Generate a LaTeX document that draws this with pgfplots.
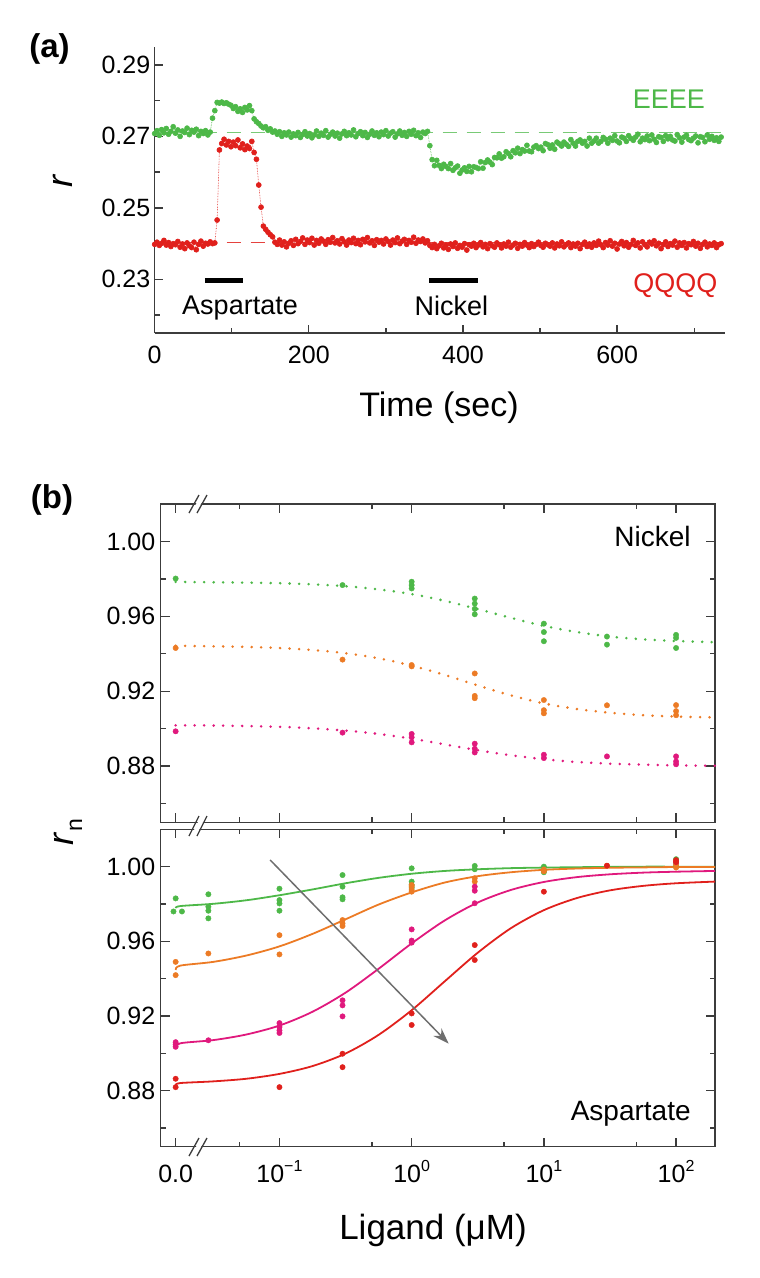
\documentclass[border=0pt]{standalone}
\usepackage{fontspec}
\setmainfont{Liberation Sans}
\usepackage{pgfplots}
\usepackage{pgfplotstable}
\pgfplotsset{compat=1.18}
\usetikzlibrary{arrows.meta}

\definecolor{cg}{HTML}{4DB848}
\definecolor{cr}{HTML}{E0201C}
\definecolor{co}{HTML}{EC7B25}
\definecolor{cp}{HTML}{E0197D}
\definecolor{axc}{HTML}{3C3C3C}
\definecolor{arr}{HTML}{6E6E6E}

\pgfplotstableread{
t g r
0 0.2708 0.2398
3 0.2716 0.2404
6 0.2703 0.2395
9 0.2719 0.2401
12 0.2710 0.2409
15 0.2722 0.2396
18 0.2706 0.2403
21 0.2714 0.2392
24 0.2727 0.2400
27 0.2709 0.2397
30 0.2718 0.2406
33 0.2700 0.2390
36 0.2715 0.2399
39 0.2711 0.2386
42 0.2723 0.2402
45 0.2705 0.2394
48 0.2717 0.2389
51 0.2712 0.2404
54 0.2720 0.2383
57 0.2702 0.2398
60 0.2714 0.2407
63 0.2708 0.2393
66 0.2716 0.2401
69 0.2704 0.2399
72 0.2712 0.2405
75 0.2751 0.2400
78 0.2772 0.2402
81 0.2795 0.2466
84 0.2793 0.2662
87 0.2796 0.2680
90 0.2792 0.2692
93 0.2794 0.2676
96 0.2790 0.2686
99 0.2787 0.2671
102 0.2778 0.2684
105 0.2783 0.2674
108 0.2770 0.2690
111 0.2777 0.2668
114 0.2767 0.2679
117 0.2781 0.2663
120 0.2774 0.2673
123 0.2786 0.2666
126 0.2772 0.2686
129 0.2749 0.2655
132 0.2741 0.2636
135 0.2736 0.2564
138 0.2729 0.2502
141 0.2724 0.2449
144 0.2727 0.2440
147 0.2717 0.2432
150 0.2721 0.2425
153 0.2712 0.2419
156 0.2715 0.2404
159 0.2706 0.2398
162 0.2713 0.2410
165 0.2700 0.2396
168 0.2710 0.2405
171 0.2704 0.2391
174 0.2712 0.2401
177 0.2698 0.2408
180 0.2707 0.2395
183 0.2702 0.2412
186 0.2711 0.2400
189 0.2697 0.2406
192 0.2705 0.2416
195 0.2713 0.2398
198 0.2701 0.2410
201 0.2708 0.2403
204 0.2696 0.2415
207 0.2704 0.2396
210 0.2715 0.2409
213 0.2700 0.2401
216 0.2709 0.2413
219 0.2703 0.2407
222 0.2716 0.2398
225 0.2698 0.2411
228 0.2706 0.2404
231 0.2712 0.2417
234 0.2701 0.2402
237 0.2709 0.2408
240 0.2695 0.2399
243 0.2707 0.2414
246 0.2714 0.2405
249 0.2702 0.2396
252 0.2710 0.2410
255 0.2704 0.2403
258 0.2718 0.2415
261 0.2699 0.2400
264 0.2708 0.2409
267 0.2713 0.2397
270 0.2702 0.2412
273 0.2711 0.2405
276 0.2697 0.2417
279 0.2706 0.2402
282 0.2715 0.2408
285 0.2703 0.2395
288 0.2710 0.2411
291 0.2699 0.2404
294 0.2712 0.2409
297 0.2705 0.2399
300 0.2716 0.2413
303 0.2701 0.2406
306 0.2709 0.2396
309 0.2713 0.2410
312 0.2698 0.2403
315 0.2707 0.2416
318 0.2715 0.2400
321 0.2703 0.2407
324 0.2711 0.2412
327 0.2700 0.2398
330 0.2714 0.2409
333 0.2706 0.2404
336 0.2717 0.2418
339 0.2702 0.2401
342 0.2710 0.2410
345 0.2697 0.2406
348 0.2712 0.2413
351 0.2708 0.2402
354 0.2714 0.2408
357 0.2674 0.2395
360 0.2635 0.2389
363 0.2618 0.2398
366 0.2633 0.2386
369 0.2619 0.2394
372 0.2610 0.2401
375 0.2622 0.2388
378 0.2616 0.2396
381 0.2610 0.2384
384 0.2624 0.2399
387 0.2605 0.2392
390 0.2612 0.2402
393 0.2617 0.2387
396 0.2597 0.2395
399 0.2606 0.2390
402 0.2612 0.2400
405 0.2602 0.2382
408 0.2616 0.2397
411 0.2601 0.2393
414 0.2615 0.2401
417 0.2613 0.2389
420 0.2610 0.2396
423 0.2629 0.2403
426 0.2611 0.2391
429 0.2627 0.2398
432 0.2634 0.2386
435 0.2628 0.2400
438 0.2621 0.2394
441 0.2641 0.2390
444 0.2640 0.2402
447 0.2651 0.2397
450 0.2639 0.2388
453 0.2643 0.2399
456 0.2657 0.2393
459 0.2652 0.2404
462 0.2643 0.2390
465 0.2660 0.2396
468 0.2654 0.2401
471 0.2667 0.2387
474 0.2652 0.2398
477 0.2663 0.2393
480 0.2659 0.2403
483 0.2675 0.2396
486 0.2659 0.2389
489 0.2657 0.2400
492 0.2670 0.2392
495 0.2674 0.2398
498 0.2666 0.2404
501 0.2670 0.2395
504 0.2660 0.2390
507 0.2680 0.2401
510 0.2677 0.2397
513 0.2667 0.2393
516 0.2676 0.2402
519 0.2664 0.2388
522 0.2684 0.2399
525 0.2679 0.2394
528 0.2673 0.2405
531 0.2684 0.2391
534 0.2678 0.2397
537 0.2672 0.2402
540 0.2691 0.2389
543 0.2681 0.2399
546 0.2673 0.2393
549 0.2686 0.2401
552 0.2690 0.2386
555 0.2681 0.2398
558 0.2686 0.2404
561 0.2673 0.2392
564 0.2695 0.2399
567 0.2681 0.2390
570 0.2687 0.2402
573 0.2695 0.2395
576 0.2681 0.2407
579 0.2686 0.2397
582 0.2697 0.2389
585 0.2692 0.2403
588 0.2681 0.2396
591 0.2695 0.2408
594 0.2689 0.2393
597 0.2702 0.2401
600 0.2687 0.2385
603 0.2682 0.2399
606 0.2698 0.2406
609 0.2695 0.2394
612 0.2686 0.2403
615 0.2702 0.2390
618 0.2694 0.2398
621 0.2689 0.2409
624 0.2698 0.2395
627 0.2706 0.2402
630 0.2685 0.2388
633 0.2695 0.2405
636 0.2691 0.2397
639 0.2701 0.2391
642 0.2688 0.2404
645 0.2704 0.2399
648 0.2692 0.2408
651 0.2683 0.2394
654 0.2699 0.2401
657 0.2697 0.2386
660 0.2686 0.2397
663 0.2702 0.2405
666 0.2693 0.2392
669 0.2700 0.2400
672 0.2690 0.2396
675 0.2687 0.2407
678 0.2705 0.2390
681 0.2696 0.2402
684 0.2684 0.2395
687 0.2698 0.2403
690 0.2703 0.2388
693 0.2691 0.2400
696 0.2688 0.2397
699 0.2695 0.2406
702 0.2701 0.2393
705 0.2682 0.2401
708 0.2699 0.2387
711 0.2697 0.2398
714 0.2685 0.2404
717 0.2704 0.2391
720 0.2692 0.2399
723 0.2700 0.2395
726 0.2689 0.2402
729 0.2696 0.2389
732 0.2686 0.2397
735 0.2698 0.2400
}\tabA

\newcommand{\sups}[2]{#1\raisebox{0.46em}{\fontsize{16}{16}\selectfont #2}}

\begin{document}
\begin{tikzpicture}
\useasboundingbox (0pt,0pt) rectangle (760pt,-1278pt);

% ---------------- panel (a) ----------------
\begin{axis}[
 at={(154.7pt,-333pt)}, anchor=south west,
 scale only axis, width=570.3pt, height=286pt,
 xmin=0, xmax=740, ymin=0.215, ymax=0.295,
 axis x line*=bottom, axis y line*=left,
 axis line style={axc, line width=1.3pt, -},
 xtick={0,200,400,600}, minor xtick={100,300,500,700},
 ytick={0.23,0.25,0.27,0.29}, minor ytick={0.22,0.24,0.26,0.28},
 tick align=inside, major tick length=8pt, minor tick length=5pt,
 every tick/.style={axc, line width=1.3pt},
 tick label style={font=\fontsize{25}{29}\selectfont, text=black},
 /pgf/number format/assume math mode=true,
 yticklabel style={/pgf/number format/fixed, /pgf/number format/fixed zerofill, /pgf/number format/precision=2, xshift=-1pt},
 xticklabel style={anchor=base, yshift=-30pt},
 clip=false,
]
\addplot[cg!75, line width=1.2pt, dash pattern=on 14pt off 10pt] coordinates {(0,0.2711) (740,0.2711)};
\addplot[cr!85, line width=1.2pt, dash pattern=on 14pt off 10pt] coordinates {(0,0.2403) (740,0.2403)};
\addplot[cg, densely dotted, line width=0.6pt, mark=*, mark size=2.5pt, mark options={solid, fill=cg, draw=cg}] table[x=t, y=g] {\tabA};
\addplot[cr, densely dotted, line width=0.6pt, mark=*, mark size=2.5pt, mark options={solid, fill=cr, draw=cr}] table[x=t, y=r] {\tabA};
\addplot[black, line width=5pt] coordinates {(65,0.2298) (115,0.2298)};
\addplot[black, line width=5pt] coordinates {(356,0.2298) (420,0.2298)};
\node[anchor=base, font=\fontsize{27}{30}\selectfont] at (axis cs:110.7,0.2203) {Aspartate};
\node[anchor=base, font=\fontsize{27}{30}\selectfont] at (axis cs:385.1,0.2198) {Nickel};
\node[anchor=base, font=\fontsize{27}{30}\selectfont, text=cg] at (axis cs:667.3,0.2779) {EEEE};
\node[anchor=base, font=\fontsize{27}{30}\selectfont, text=cr] at (axis cs:675.7,0.2262) {QQQQ};
\end{axis}

% ---------------- panel (b) upper: Nickel ----------------
\begin{semilogxaxis}[
  at={(160.7pt,-822.3pt)}, anchor=south west,
  scale only axis, width=554.3pt, height=318.3pt,
  xmin=0.01264, xmax=197, ymin=0.85, ymax=1.02,
  xtick={0.0164,0.1,1,10,100}, minor xtick={0.05,0.5,5,50},
  ytick={0.88,0.92,0.96,1.00}, minor ytick={0.86,0.90,0.94,0.98},
  xticklabels={},
  tick align=inside, major tick length=9pt, minor tick length=5pt,
  axis line style={axc, line width=1.3pt},
  every tick/.style={axc, line width=1.3pt},
  tick label style={font=\fontsize{25}{29}\selectfont, text=black},
  /pgf/number format/assume math mode=true,
  yticklabel style={/pgf/number format/fixed, /pgf/number format/fixed zerofill, /pgf/number format/precision=2, xshift=-2pt},
  clip=false,
]
\addplot[cg, line width=2.8pt, dash pattern=on 0pt off 9.5pt, line cap=round, smooth] coordinates {(0.0164,0.9784) (0.0316,0.9782) (0.0562,0.9780) (0.1,0.9777) (0.178,0.9771) (0.316,0.9761) (0.562,0.9744) (1,0.9719) (1.78,0.9683) (3.16,0.9639) (5.62,0.9592) (10,0.9549) (17.8,0.9516) (31.6,0.9492) (56.2,0.9477) (100,0.9468) (197,0.9462)};
\addplot[co, line width=2.8pt, dash pattern=on 0pt off 9.5pt, line cap=round, smooth] coordinates {(0.0164,0.9443) (0.0316,0.9440) (0.0562,0.9437) (0.1,0.9431) (0.178,0.9420) (0.316,0.9403) (0.562,0.9376) (1,0.9337) (1.78,0.9287) (3.16,0.9231) (5.62,0.9178) (10,0.9135) (17.8,0.9105) (31.6,0.9085) (56.2,0.9072) (100,0.9065) (197,0.9060)};
\addplot[cp, line width=2.8pt, dash pattern=on 0pt off 9.5pt, line cap=round, smooth] coordinates {(0.0164,0.9018) (0.0316,0.9017) (0.0562,0.9014) (0.1,0.9010) (0.178,0.9002) (0.316,0.8990) (0.562,0.8972) (1,0.8947) (1.78,0.8916) (3.16,0.8885) (5.62,0.8858) (10,0.8837) (17.8,0.8822) (31.6,0.8813) (56.2,0.8808) (100,0.8804) (197,0.8802)};
\addplot[cg, only marks, mark=*, mark size=2.7pt] table {
0.0164 0.9802
0.3 0.9767
1 0.9785
1 0.9767
1 0.9749
3 0.9695
3 0.9668
3 0.9640
3 0.9611
10 0.9561
10 0.9516
10 0.9467
30 0.9492
30 0.9449
100 0.9501
100 0.9485
100 0.9431
};
\addplot[co, only marks, mark=*, mark size=2.7pt] table {
0.0164 0.9431
0.3 0.9369
1 0.9340
1 0.9333
3 0.9295
3 0.9175
3 0.9163
10 0.9153
10 0.9099
10 0.9082
30 0.9125
100 0.9126
100 0.9094
100 0.9072
};
\addplot[cp, only marks, mark=*, mark size=2.7pt] table {
0.0164 0.8986
0.3 0.8979
1 0.8972
1 0.8954
1 0.8927
3 0.8920
3 0.8893
3 0.8873
10 0.8861
10 0.8843
30 0.8852
100 0.8852
100 0.8825
100 0.8810
};
\node[anchor=base east, font=\fontsize{28}{30}\selectfont] at (axis cs:137,0.9971) {Nickel};
\end{semilogxaxis}

% ---------------- panel (b) lower: Aspartate ----------------
\begin{semilogxaxis}[
  at={(160.7pt,-1146.7pt)}, anchor=south west,
  scale only axis, width=554.3pt, height=317.4pt,
  xmin=0.01264, xmax=197, ymin=0.85, ymax=1.02,
  xtick={0.0164,0.1,1,10,100}, minor xtick={0.05,0.5,5,50},
  ytick={0.88,0.92,0.96,1.00}, minor ytick={0.86,0.90,0.94,0.98},
  xticklabels={0.0, \sups{10}{−1}, \sups{10}{0}, \sups{10}{1}, \sups{10}{2}},
  xticklabel style={anchor=base, yshift=-36pt},
  tick align=inside, major tick length=9pt, minor tick length=5pt,
  axis line style={axc, line width=1.3pt},
  every tick/.style={axc, line width=1.3pt},
  tick label style={font=\fontsize{25}{29}\selectfont, text=black},
  /pgf/number format/assume math mode=true,
  yticklabel style={/pgf/number format/fixed, /pgf/number format/fixed zerofill, /pgf/number format/precision=2, xshift=-2pt},
  clip=false,
]
\addplot[cg, line width=1.8pt, smooth] coordinates {(0.0164,0.9778) (0.0178,0.9789) (0.0316,0.9801) (0.0562,0.9820) (0.1,0.9847) (0.178,0.9878) (0.316,0.9911) (0.562,0.9940) (1,0.9962) (1.78,0.9977) (3.16,0.9986) (5.62,0.9992) (10,0.9995) (17.8,0.9997) (31.6,0.9999) (56.2,1.0000) (100,1.0000) (197,1.0000)};
\addplot[co, line width=1.8pt, smooth] coordinates {(0.0164,0.9447) (0.0178,0.9470) (0.0316,0.9490) (0.0562,0.9524) (0.1,0.9573) (0.178,0.9640) (0.316,0.9718) (0.562,0.9797) (1,0.9862) (1.78,0.9915) (3.16,0.9949) (5.62,0.9970) (10,0.9983) (17.8,0.9990) (31.6,0.9994) (56.2,0.9996) (100,0.9998) (197,0.9998)};
\addplot[cp, line width=1.8pt, smooth] coordinates {(0.0164,0.9027) (0.0178,0.9054) (0.0316,0.9071) (0.0562,0.9101) (0.1,0.9149) (0.178,0.9223) (0.316,0.9325) (0.562,0.9453) (1,0.9589) (1.78,0.9712) (3.16,0.9808) (5.62,0.9875) (10,0.9918) (17.8,0.9944) (31.6,0.9959) (56.2,0.9968) (100,0.9973) (197,0.9977)};
\addplot[cr, line width=1.8pt, smooth] coordinates {(0.0164,0.8830) (0.0178,0.8841) (0.0316,0.8850) (0.0562,0.8864) (0.1,0.8890) (0.178,0.8932) (0.316,0.8999) (0.562,0.9099) (1,0.9231) (1.78,0.9386) (3.16,0.9539) (5.62,0.9670) (10,0.9767) (17.8,0.9832) (31.6,0.9873) (56.2,0.9897) (100,0.9911) (197,0.9920)};
\addplot[cg, only marks, mark=*, mark size=2.7pt] table {
0.0164 0.9830
0.0158 0.9760
0.0183 0.9760
0.029 0.9852
0.029 0.9785
0.029 0.9764
0.029 0.9723
0.1 0.9882
0.1 0.9821
0.1 0.9803
0.1 0.9764
0.3 0.9955
0.3 0.9893
0.3 0.9836
0.3 0.9825
1 0.9991
1 0.9920
1 0.9902
1 0.9886
3 1.0004
3 0.9986
10 1.0000
10 0.9980
10 0.9970
100 1.0040
100 1.0015
100 1.0000
};
\addplot[co, only marks, mark=*, mark size=2.7pt] table {
0.0164 0.9490
0.0164 0.9419
0.029 0.9535
0.1 0.9633
0.1 0.9530
0.3 0.9714
0.3 0.9696
0.3 0.9682
1 0.9902
1 0.9893
1 0.9875
1 0.9866
3 0.9938
3 0.9920
10 0.9985
10 0.9975
30 1.0005
100 1.0010
100 0.9995
};
\addplot[cp, only marks, mark=*, mark size=2.7pt] table {
0.0164 0.9060
0.0164 0.9048
0.0164 0.9035
0.029 0.9070
0.1 0.9162
0.1 0.9141
0.1 0.9123
0.1 0.9109
0.3 0.9284
0.3 0.9257
0.3 0.9198
1 0.9664
1 0.9604
1 0.9593
3 0.9893
3 0.9871
3 0.9804
100 1.0025
};
\addplot[cr, only marks, mark=*, mark size=2.7pt] table {
0.0164 0.8864
0.0164 0.8819
0.1 0.8819
0.3 0.8998
0.3 0.8926
1 0.9214
1 0.9152
3 0.9580
3 0.9500
10 0.9866
30 1.0005
100 1.0035
100 1.0025
};
\draw[arr, line width=1.5pt, -{Stealth[length=16pt, width=11pt]}] (axis cs:0.085,1.0036) -- (axis cs:1.905,0.9052);
\node[anchor=base east, font=\fontsize{28}{30}\selectfont] at (axis cs:137,0.864) {Aspartate};
\end{semilogxaxis}

% axis break marks
\foreach \yc/\hh in {504/9, 826/10, 1147/9}{
  \fill[white] (191pt,-\yc pt-\hh pt) -- (201pt,-\yc pt+\hh pt) -- (206pt,-\yc pt+\hh pt) -- (196pt,-\yc pt-\hh pt) -- cycle;
  \draw[axc, line width=1.3pt] (189pt,-\yc pt-\hh pt) -- (199pt,-\yc pt+\hh pt);
  \draw[axc, line width=1.3pt] (197pt,-\yc pt-\hh pt) -- (207pt,-\yc pt+\hh pt);
}

% texts
\node[font=\bfseries\fontsize{33}{36}\selectfont] at (49.5pt,-49pt) {(a)};
\node[font=\bfseries\fontsize{33}{36}\selectfont] at (52pt,-500pt) {(b)};
\node[rotate=90, font=\fontsize{36}{38}\selectfont\itshape] at (63pt,-181pt) {r};
\node[rotate=90, font=\fontsize{36}{38}\selectfont] at (68pt,-832pt) {\textit{r}\raisebox{-0.25em}{\fontsize{23}{23}\selectfont n}};
\node[anchor=base, font=\fontsize{34}{36}\selectfont] at (439pt,-416pt) {Time (sec)};
\node[anchor=base, font=\fontsize{35}{38}\selectfont] at (433pt,-1239pt) {Ligand (μM)};
\end{tikzpicture}
\end{document}
